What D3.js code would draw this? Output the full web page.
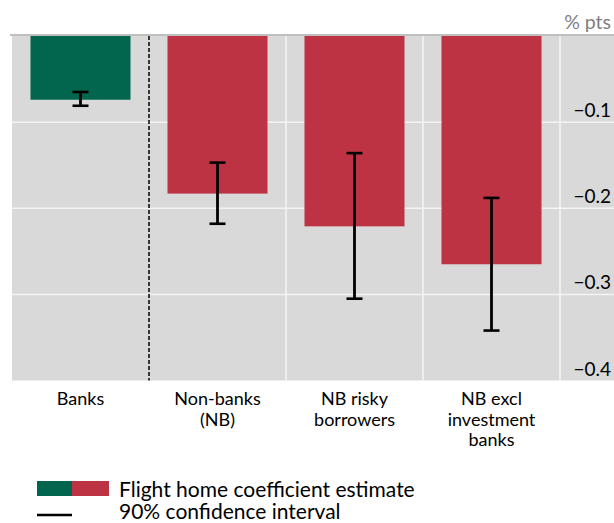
<!DOCTYPE html>
<html>
<head>
<meta charset="utf-8">
<script src="https://cdn.jsdelivr.net/npm/d3@7"></script>
<style>
  body { margin: 0; background: #fff; }
  svg { display: block; font-family: Lato, 'Open Sans', sans-serif; }
</style>
</head>
<body>
<div id="chart"></div>
<script>
// values (% pts)
const categories = ['Banks', 'Non-banks (NB)', 'NB risky borrowers', 'NB excl investment banks'];
const labelLines = [['Banks'], ['Non-banks', '(NB)'], ['NB risky', 'borrowers'], ['NB excl', 'investment', 'banks']];
const estimates = [-0.074, -0.183, -0.221, -0.265];
const ciLow = [-0.081, -0.218, -0.305, -0.342];
const ciHigh = [-0.065, -0.147, -0.136, -0.188];
const yTicks = [-0.1, -0.2, -0.3, -0.4];

const width = 614;
const height = 523;
const green = '#02664f';
const red = '#bd3343';

const svg = d3.select('#chart')
  .append('svg')
  .attr('width', width)
  .attr('height', height);

const plot = { left: 12, right: 614, top: 36, barsRight: 560 };

const xScale = d3.scaleBand()
  .domain(categories)
  .range([plot.left, plot.barsRight])
  .paddingInner(0.27)
  .paddingOuter(0.135);

const yScale = d3.scaleLinear().domain([0, -0.4]).range([36, 380.5]);

// background
svg.append('rect')
  .attr('x', plot.left)
  .attr('y', yScale(0))
  .attr('width', plot.right - plot.left)
  .attr('height', yScale(-0.4) - yScale(0))
  .attr('fill', '#d9d9d9');

// top rule
svg.append('line')
  .attr('x1', 10).attr('x2', width)
  .attr('y1', 35).attr('y2', 35)
  .attr('stroke', '#bfbfbf')
  .attr('stroke-width', 2);

// horizontal gridlines
svg.append('g')
  .selectAll('line')
  .data(yTicks.slice(0, 3))
  .join('line')
  .attr('x1', plot.left).attr('x2', plot.right)
  .attr('y1', (d) => yScale(d)).attr('y2', (d) => yScale(d))
  .attr('stroke', '#f4f4f4')
  .attr('stroke-width', 1.5);

// vertical separators between categories
const step = xScale.step();
const seps = categories.map((c, i) => xScale(c) - xScale.paddingInner() * step / 2 + step);
svg.append('g')
  .selectAll('line')
  .data(seps)
  .join('line')
  .attr('x1', (d) => d).attr('x2', (d) => d)
  .attr('y1', yScale(0)).attr('y2', yScale(-0.4))
  .attr('stroke', (d, i) => (i === 0 ? '#000' : '#f4f4f4'))
  .attr('stroke-width', 1.5)
  .attr('stroke-dasharray', (d, i) => (i === 0 ? '4,2' : null));

// bars
svg.append('g')
  .selectAll('rect')
  .data(categories)
  .join('rect')
  .attr('x', (d) => xScale(d))
  .attr('y', yScale(0))
  .attr('width', xScale.bandwidth())
  .attr('height', (d, i) => yScale(estimates[i]) - yScale(0))
  .attr('fill', (d, i) => (i === 0 ? green : red));

// confidence intervals
const ci = svg.append('g').attr('stroke', '#000');
categories.forEach((c, i) => {
  const cx = xScale(c) + xScale.bandwidth() / 2;
  ci.append('line')
    .attr('x1', cx).attr('x2', cx)
    .attr('y1', yScale(ciHigh[i])).attr('y2', yScale(ciLow[i]))
    .attr('stroke-width', 2.8);
  [ciHigh[i], ciLow[i]].forEach((v) => {
    ci.append('line')
      .attr('x1', cx - 8).attr('x2', cx + 8)
      .attr('y1', yScale(v)).attr('y2', yScale(v))
      .attr('stroke-width', 2.6);
  });
});

// y tick labels
svg.append('g')
  .selectAll('text')
  .data(yTicks)
  .join('text')
  .attr('x', 611)
  .attr('y', (d) => yScale(d) - 5)
  .attr('text-anchor', 'end')
  .attr('font-size', 19)
  .attr('fill', '#000')
  .text((d) => '\u2212' + d3.format('.1f')(Math.abs(d)));

svg.append('text')
  .attr('x', 611)
  .attr('y', 29)
  .attr('text-anchor', 'end')
  .attr('font-size', 19.5)
  .attr('fill', '#7f7f7f')
  .text('% pts');

// category labels
const xLabels = svg.append('g')
  .attr('font-size', 18)
  .attr('text-anchor', 'middle')
  .attr('fill', '#000');
categories.forEach((c, i) => {
  const t = xLabels.append('text')
    .attr('x', xScale(c) + xScale.bandwidth() / 2)
    .attr('y', 405);
  labelLines[i].forEach((line, j) => {
    t.append('tspan')
      .attr('x', xScale(c) + xScale.bandwidth() / 2)
      .attr('dy', j === 0 ? 0 : 20.5)
      .text(line);
  });
});

// legend
const legend = svg.append('g');
legend.append('rect').attr('x', 37).attr('y', 481).attr('width', 35).attr('height', 15).attr('fill', green);
legend.append('rect').attr('x', 72).attr('y', 481).attr('width', 37).attr('height', 15).attr('fill', red);
legend.append('line')
  .attr('x1', 37).attr('x2', 72)
  .attr('y1', 515).attr('y2', 515)
  .attr('stroke', '#000').attr('stroke-width', 2.5);
legend.append('text')
  .attr('x', 119).attr('y', 496.5)
  .attr('font-size', 21)
  .text('Flight home coefficient estimate');
legend.append('text')
  .attr('x', 119).attr('y', 518.5)
  .attr('font-size', 21)
  .text('90% confidence interval');
</script>
</body>
</html>
